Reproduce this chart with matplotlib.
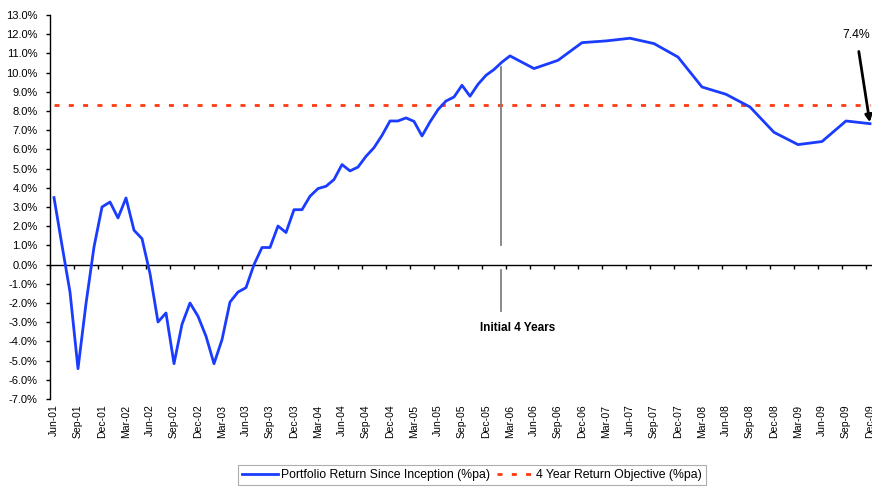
import numpy as np
import pandas as pd
import matplotlib
matplotlib.use("Agg")
import matplotlib.pyplot as plt

plt.rcParams['font.family'] = ['Liberation Sans', 'DejaVu Sans']
plt.rcParams['lines.scale_dashes'] = False

# months since Jun-01: monthly to Mar-06, quarterly after that
months = list(range(0, 58)) + list(range(60, 103, 3))
returns = [3.49, 1.0, -1.43, -5.42, -2.03, 0.92, 3.0, 3.26, 2.43, 3.47,
           1.79, 1.35, -0.47, -2.99, -2.52, -5.16, -3.11, -2.0, -2.69, -3.73,
           -5.16, -3.91, -1.95, -1.43, -1.2, 0.0, 0.89, 0.89, 2.01, 1.67,
           2.86, 2.86, 3.56, 3.96, 4.08, 4.43, 5.21, 4.88, 5.08, 5.64,
           6.09, 6.73, 7.48, 7.48, 7.64, 7.46, 6.7, 7.43, 8.07, 8.52,
           8.73, 9.34, 8.77, 9.39, 9.86, 10.16, 10.55, 10.87,
           10.21, 10.64, 11.56, 11.65, 11.79, 11.51, 10.81, 9.25, 8.87, 8.21,
           6.89, 6.25, 6.41, 7.48, 7.34]
objective = 8.33

tick_months = list(range(0, 103, 3))
tick_labels = list(pd.date_range('2001-06-01', '2009-12-01', freq='3MS').strftime('%b-%y'))
yticks = list(range(-7, 14))

marker_month = 55.9
marker_upper = (1.0, 10.28)
marker_lower = (-0.26, -2.42)

fig = plt.figure(figsize=(8.72, 4.87), dpi=100)
ax = fig.add_axes([50 / 872, 0.1807, 822 / 872, 0.7885])

ax.plot(months, returns, color='#1a3cff', lw=2, label='Portfolio Return Since Inception (%pa)', zorder=3)
ax.plot([months[0], months[-1]], [objective, objective], color='#ff3a10', lw=2,
        linestyle=(0, (3.6, 6.7)), label='4 Year Return Objective (%pa)', zorder=2)

ax.plot([marker_month, marker_month], marker_upper, color='#808080', lw=1.3)
ax.plot([marker_month, marker_month], marker_lower, color='#808080', lw=1.3)
ax.text(58, -3.3, 'Initial 4 Years', fontsize=8.5, fontweight='bold', ha='center', va='center')

ax.text(98.5, 11.95, '7.4%', fontsize=8.8, ha='left', va='center', clip_on=False)
ax.annotate('', xy=(months[-1], returns[-1]), xytext=(100.6, 11.1),
            arrowprops=dict(arrowstyle='-|>', color='black', lw=2, mutation_scale=10,
                            shrinkA=0, shrinkB=1))

ax.set_xlim(-0.5, 102.25)
ax.set_ylim(-7, 13)
ax.set_yticks(yticks)
ax.set_yticklabels(['%.1f%%' % v for v in yticks])
ax.set_xticks(tick_months)
ax.set_xticklabels(tick_labels, rotation=90)
ax.tick_params(axis='x', length=0, pad=4, labelsize=7.5)
ax.tick_params(axis='y', length=3, width=1, direction='out', pad=6, labelsize=8)

for s in ['top', 'right', 'bottom']:
    ax.spines[s].set_visible(False)
ax.spines['left'].set_linewidth(1)

# zero line with its own tick marks
sec = ax.secondary_xaxis(7 / 20)
sec.set_xticks([m - 0.5 for m in tick_months])
sec.set_xticklabels([])
sec.tick_params(length=3, width=1, direction='out')
sec.spines['bottom'].set_linewidth(1)

leg = ax.legend(loc='center', bbox_to_anchor=(0.541, 0.0246), bbox_transform=fig.transFigure,
                ncol=2, fontsize=8.8, frameon=True, fancybox=False, edgecolor='#999999',
                handlelength=3.0, handletextpad=0.2, columnspacing=0.6, borderpad=0.3)
leg.get_frame().set_linewidth(0.8)

fig.savefig('out.png', dpi=100)
